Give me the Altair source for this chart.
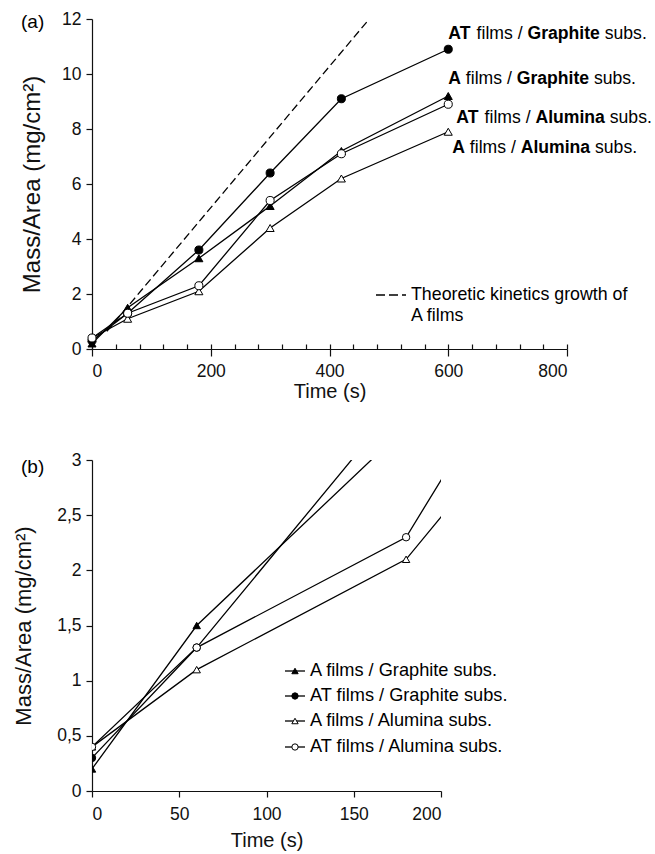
import altair as alt
import pandas as pd

# ---------------- data ----------------
time_s = [0, 60, 180, 300, 420, 600]
a_graphite = [0.2, 1.5, 3.3, 5.2, 7.2, 9.2]
at_graphite = [0.3, 1.3, 3.6, 6.4, 9.1, 10.9]
a_alumina = [0.4, 1.1, 2.1, 4.4, 6.2, 7.9]
at_alumina = [0.4, 1.3, 2.3, 5.4, 7.1, 8.9]

series_names = ["A films / Graphite subs.", "AT films / Graphite subs.",
                "A films / Alumina subs.", "AT films / Alumina subs."]
series_shapes = ["triangle-up", "circle", "triangle-up", "circle"]
series_fills = ["black", "black", "white", "white"]

theory_time = [25, 465]
theory_mass = [0.64, 11.95]

# right-hand annotations of panel (a)
ann_bold1 = ["AT", "A", "AT", "A"]
ann_bold2 = ["Graphite", "Graphite", "Alumina", "Alumina"]
ann_y = [11.45, 9.82, 8.4, 7.31]
ann_dx = [0, 0, 8, 4]

a_x_ticks = [0, 200, 400, 600, 800]
a_x_minor = list(range(0, 801, 40))
a_y_ticks = [0, 2, 4, 6, 8, 10, 12]
b_x_ticks = [0, 50, 100, 150, 200]
b_y_ticks = [0, 0.5, 1, 1.5, 2, 2.5, 3]

FONT = "Liberation Sans"
TICK_FS = 17.5
ANN_FS = 17.6

# ---------------- tables ----------------
rows = []
for name, vals in zip(series_names, [a_graphite, at_graphite, a_alumina, at_alumina]):
    for t, m in zip(time_s, vals):
        rows.append({"series": name, "t": t, "m": m})
df = pd.DataFrame(rows)
theory = pd.DataFrame({"t": theory_time, "m": theory_mass})

REG = {' ': 278, '/': 278, '.': 278, 'f': 278, 'i': 222, 'l': 222, 'm': 833,
       's': 500, 'u': 556, 'b': 556}
BOLD = {'A': 722, 'T': 611, 'G': 778, 'r': 389, 'a': 556, 'p': 611, 'h': 611,
        'i': 278, 't': 333, 'e': 556, 'l': 278, 'u': 611, 'm': 889, 'n': 611}


def width(txt, bold):
    table = BOLD if bold else REG
    return sum(table.get(c, 556) for c in txt) * ANN_FS / 1000.0


SPACE = width(" ", False)
seg_rows = []
for b1, b2, yv, dx in zip(ann_bold1, ann_bold2, ann_y, ann_dx):
    segs = [(b1, True), ("films /", False), (b2, True), ("subs.", False)]
    off = dx
    for txt, bold in segs:
        seg_rows.append({"t": 600, "m": yv, "txt": txt, "bold": bold, "off": off})
        off += width(txt, bold) + SPACE
seg = pd.DataFrame(seg_rows)

shape_scale = alt.Scale(domain=series_names, range=series_shapes)
fill_scale = alt.Scale(domain=series_names, range=series_fills)

# ---------------- panel (a) ----------------
WA, HA = 475, 330
xa_scale = alt.Scale(domain=[0, 800], nice=False)
ya_scale = alt.Scale(domain=[0, 12], nice=False)

lines_a = alt.Chart(df).mark_line(color="black", strokeWidth=1.3).encode(
    x=alt.X("t:Q", scale=xa_scale,
            axis=alt.Axis(values=a_x_ticks, title="Time (s)", tickSize=7,
                          labelPadding=6, titleY=42, titleBaseline="middle",
                          titleFontSize=20)),
    y=alt.Y("m:Q", scale=ya_scale,
            axis=alt.Axis(values=a_y_ticks, title="Mass/Area (mg/cm²)",
                          tickSize=6, labelPadding=5, titleX=-60,
                          titleBaseline="middle", titleFontSize=24)),
    detail="series:N",
)
pts_a = alt.Chart(df).mark_point(filled=True, stroke="black", strokeWidth=1,
                                 opacity=1, size=65).encode(
    x=alt.X("t:Q", scale=xa_scale, axis=None),
    y=alt.Y("m:Q", scale=ya_scale),
    shape=alt.Shape("series:N", scale=shape_scale, legend=None),
    fill=alt.Fill("series:N", scale=fill_scale, legend=None),
)
theory_a = alt.Chart(theory).mark_line(color="black", strokeWidth=1.3,
                                       strokeDash=[8, 4]).encode(
    x=alt.X("t:Q", scale=xa_scale,
            axis=alt.Axis(orient="top", offset=-HA, values=a_x_minor,
                          labels=False, domain=False, tickSize=5, title=None)),
    y=alt.Y("m:Q", scale=ya_scale),
)


def ann_layer(data, weight):
    return alt.Chart(data).transform_calculate(
        tx=f"datum.t + datum.off * 800 / {WA}"
    ).mark_text(align="left", baseline="middle", fontSize=ANN_FS,
                fontWeight=weight, font=FONT, color="black").encode(
        x=alt.X("tx:Q", scale=xa_scale, axis=None),
        y=alt.Y("m:Q", scale=ya_scale),
        text="txt:N",
    )


ann_bold = ann_layer(seg[seg["bold"]], "bold")
ann_reg = ann_layer(seg[~seg["bold"]], "normal")

theory_leg_rule = alt.Chart(pd.DataFrame({"k": [0]})).mark_rule(
    color="black", strokeWidth=1.3, strokeDash=[9, 4]).encode(
    x=alt.value(284), x2=alt.value(314), y=alt.value(276))
theory_leg_txt = alt.Chart(pd.DataFrame({
    "txt": ["Theoretic kinetics growth of", "A films"], "py": [276, 297]})
).mark_text(align="left", baseline="middle", fontSize=17.8, font=FONT,
            color="black").encode(
    x=alt.value(319), y=alt.Y("py:Q", scale=None), text="txt:N")
tag_a = alt.Chart(pd.DataFrame({"txt": ["(a)"]})).mark_text(
    align="left", baseline="middle", fontSize=19, font=FONT, color="black"
).encode(x=alt.value(-71), y=alt.value(3), text="txt:N")

panel_a = alt.layer(lines_a, pts_a, theory_a, ann_bold, ann_reg,
                    theory_leg_rule, theory_leg_txt, tag_a
                    ).resolve_axis(x="independent").properties(width=WA, height=HA)

# ---------------- panel (b) ----------------
WB, HB = 349, 331
xb_scale = alt.Scale(domain=[0, 200], nice=False)
yb_scale = alt.Scale(domain=[0, 3], nice=False)

lines_b = alt.Chart(df).mark_line(color="black", strokeWidth=1.3, clip=True).encode(
    x=alt.X("t:Q", scale=xb_scale,
            axis=alt.Axis(values=b_x_ticks, title="Time (s)", tickSize=6,
                          labelPadding=8, titleY=49, titleBaseline="middle",
                          titleFontSize=20)),
    y=alt.Y("m:Q", scale=yb_scale,
            axis=alt.Axis(values=b_y_ticks, title="Mass/Area (mg/cm²)",
                          tickSize=6, labelPadding=5, titleX=-69,
                          titleBaseline="middle", titleFontSize=22,
                          labelExpr="replace(toString(datum.value), '.', ',')")),
    detail="series:N",
)
pts_b = alt.Chart(df).mark_point(filled=True, stroke="black", strokeWidth=1,
                                 opacity=1, size=55, clip=True).encode(
    x=alt.X("t:Q", scale=xb_scale),
    y=alt.Y("m:Q", scale=yb_scale),
    shape=alt.Shape("series:N", scale=shape_scale, legend=None),
    fill=alt.Fill("series:N", scale=fill_scale, legend=None),
)
leg = pd.DataFrame({"series": series_names, "py": [211, 236, 261, 287]})
leg_rule = alt.Chart(leg).mark_rule(color="black", strokeWidth=1.3).encode(
    x=alt.value(193), x2=alt.value(213), y=alt.Y("py:Q", scale=None))
leg_pts = alt.Chart(leg).mark_point(filled=True, stroke="black", strokeWidth=1,
                                    opacity=1, size=40).encode(
    x=alt.value(203), y=alt.Y("py:Q", scale=None),
    shape=alt.Shape("series:N", scale=shape_scale, legend=None),
    fill=alt.Fill("series:N", scale=fill_scale, legend=None),
)
leg_txt = alt.Chart(leg).mark_text(align="left", baseline="middle",
                                   fontSize=18.2, font=FONT, color="black").encode(
    x=alt.value(218), y=alt.Y("py:Q", scale=None), text="series:N")
tag_b = alt.Chart(pd.DataFrame({"txt": ["(b)"]})).mark_text(
    align="left", baseline="middle", fontSize=19, font=FONT, color="black"
).encode(x=alt.value(-71), y=alt.value(7), text="txt:N")

panel_b = alt.layer(lines_b, pts_b, leg_rule, leg_pts, leg_txt, tag_b
                    ).properties(width=WB, height=HB)

chart = alt.vconcat(panel_a, panel_b, spacing=50).properties(
    padding={"left": 12, "top": 10, "right": 0, "bottom": 2}
).configure_view(stroke=None).configure_axis(
    grid=False, domainColor="#111", tickColor="#111", labelColor="#111",
    titleColor="#111", labelFont=FONT, titleFont=FONT, labelFontSize=TICK_FS,
    titleFontWeight="normal", domainWidth=1.2, tickWidth=1.2,
)

chart.save("out.html", embed_options={"renderer": "svg", "actions": False})
